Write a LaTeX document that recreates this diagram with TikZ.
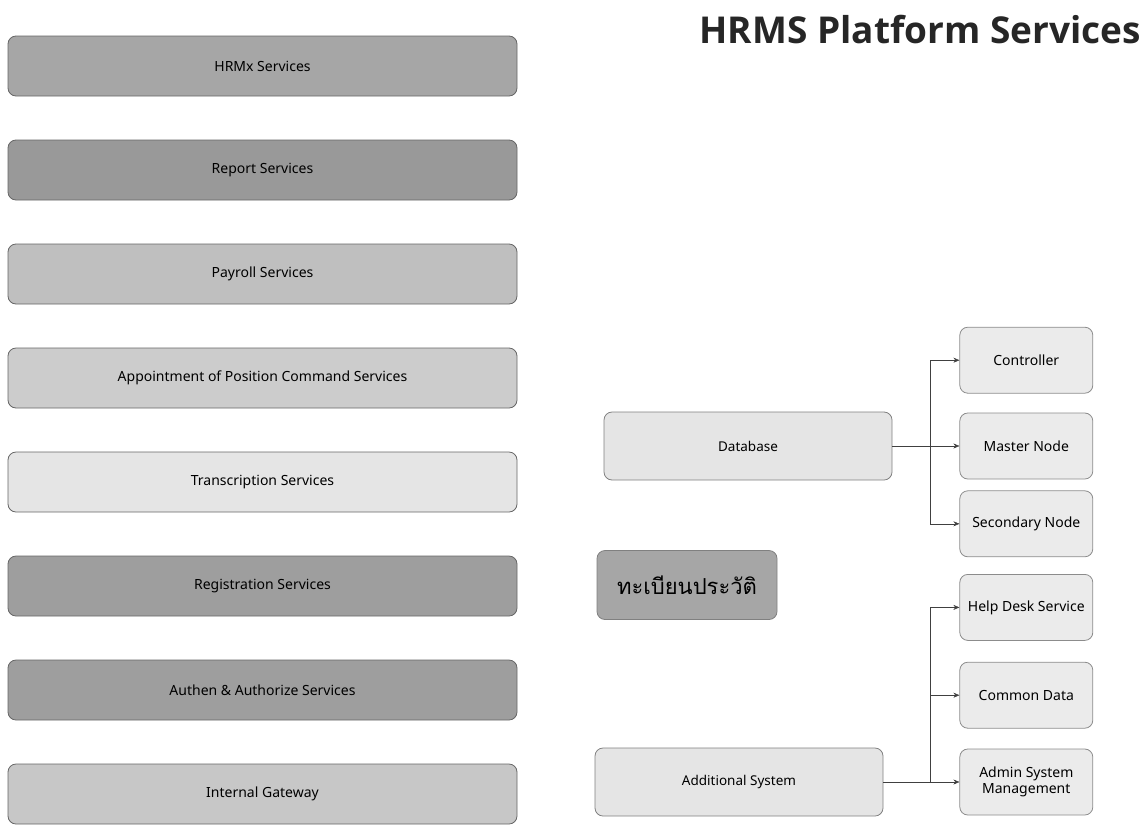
\documentclass[tikz,border=0pt]{standalone}
\usepackage{fontspec}
\setmainfont{Noto Sans}
\newfontfamily\titlefont{Open Sans}
\newfontfamily\thaifont[Script=Thai]{Loma}
\usetikzlibrary{positioning}
\usetikzlibrary{arrows.meta}

\begin{document}
\begin{tikzpicture}[x=1pt, y=1pt,
servicenode/.style={rectangle, rounded corners=8pt, draw=black!60, thick, minimum width=509pt, minimum height=60pt, font=\fontsize{14}{16}\selectfont},
mainnode/.style={rectangle, rounded corners=8pt, draw=black!50, thick, fill=black!10, minimum width=288pt, minimum height=68pt, font=\fontsize{13.5}{15}\selectfont},
sidenode/.style={rectangle, rounded corners=8pt, draw=black!45, thick, fill=black!8, minimum width=133pt, minimum height=66pt, align=center, font=\fontsize{14}{16}\selectfont},
link/.style={-{Stealth[length=6pt, width=5pt]}, draw=black!75},
]
\useasboundingbox (0,0) rectangle (1145,-825);

%Title
\node[font=\fontsize{37}{42}\titlefont\bfseries, text=black!85, anchor=east, inner sep=0pt] (title) at (1141,-30) {HRMS Platform Services};

%Nodes
\node[servicenode, fill=black!35]      (hrmx)      at (262.5,-66)             {HRMx Services};
\node[servicenode, fill=black!40]      (report)    [below=43.2pt of hrmx]     {Report Services};
\node[servicenode, fill=black!25]      (payroll)   [below=43.2pt of report]   {Payroll Services};
\node[servicenode, fill=black!20]      (appoint)   [below=43.2pt of payroll]  {Appointment of Position Command Services};
\node[servicenode, fill=black!10]      (transcr)   [below=43.2pt of appoint]  {Transcription Services};
\node[servicenode, fill=black!38]      (regist)    [below=43.2pt of transcr]  {Registration Services};
\node[servicenode, fill=black!38]      (authen)    [below=43.2pt of regist]   {Authen \& Authorize Services};
\node[servicenode, fill=black!22]      (gateway)   [below=43.2pt of authen]   {Internal Gateway};

\node[mainnode]                        (database)  at (748,-446)              {Database};
\node[mainnode, fill=black!35, minimum width=180pt, minimum height=69pt, font=\fontsize{22}{26}\thaifont] (history) at (687,-585) {ทะเบียนประวัติ};
\node[mainnode]                        (additional) at (739,-782)             {Additional System};

\node[sidenode]                        (master)    [right=67pt of database]   {Master Node};
\node[sidenode]                        (controller) [above=19pt of master]    {Controller};
\node[sidenode]                        (secondary) [below=11pt of master]     {Secondary Node};
\node[sidenode]                        (admin)     [right=76pt of additional] {Admin System\\Management};
\node[sidenode]                        (common)    [above=20pt of admin]      {Common Data};
\node[sidenode]                        (helpdesk)  [above=21pt of common]     {Help Desk Service};

\coordinate (dbjoint) at (930,-446);
\coordinate (addjoint) at (930,-782);

%Lines
\draw[link] (database.east) -- (dbjoint) |- (controller.west);
\draw[link] (database.east) -- (master.west);
\draw[link] (database.east) -- (dbjoint) |- (secondary.west);
\draw[link] (additional.east) -- (addjoint) |- (helpdesk.west);
\draw[link] (additional.east) -- (addjoint) |- (common.west);
\draw[link] (additional.east) -- (admin.west);
\end{tikzpicture}
\end{document}
